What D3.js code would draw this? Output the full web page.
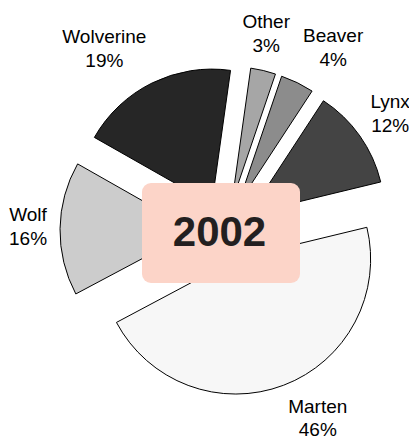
<!DOCTYPE html>
<html>
<head>
<meta charset="utf-8">
<script src="https://cdn.jsdelivr.net/npm/d3@7"></script>
<style>
  body { margin: 0; background: #fff; }
  svg { display: block; font-family: Arial, "Liberation Sans", sans-serif; }
</style>
</head>
<body>
<svg id="chart" width="409" height="439"></svg>
<script>
// pie des captures per espècie, any 2002
const species = ["Other", "Beaver", "Lynx", "Marten", "Wolf", "Wolverine"];
const shares = [3, 4, 12, 46, 16, 19];
const fills = ["#a6a6a6", "#8c8c8c", "#444444", "#f7f7f7", "#cccccc", "#262626"];
const year = "2002";

const svg = d3.select("#chart");
const cx = 225, cy = 231;
const radius = 135, explode = 30, labelR = 178;
const deg = Math.PI / 180;

const data = species.map((s, i) => ({ name: s, share: shares[i] }));

const color = d3.scaleOrdinal().domain(species).range(fills);

const pie = d3.pie()
    .sort(null)
    .value(d => d.share)
    .startAngle(8 * deg)
    .endAngle(368 * deg);

const arc = d3.arc().innerRadius(0).outerRadius(radius);
const mid = d => (d.startAngle + d.endAngle) / 2;

const g = svg.append("g").attr("transform", `translate(${cx},${cy})`);

// Llesques separades del centre
g.selectAll(".slice")
  .data(pie(data))
  .enter().append("path")
  .attr("class", "slice")
  .attr("d", arc)
  .attr("transform", d => `translate(${explode * Math.sin(mid(d))},${-explode * Math.cos(mid(d))})`)
  .attr("fill", d => color(d.data.name))
  .attr("stroke", "#000")
  .attr("stroke-width", 1);

// Etiquetes fora de la llesca (bloc de dues línies centrat)
g.selectAll(".lbl")
  .data(pie(data))
  .enter().append("text")
  .attr("class", "lbl")
  .attr("text-anchor", "middle")
  .style("font-size", "19px")
  .style("fill", "#000")
  .each(function(d) {
    const s = Math.sin(mid(d)), c = Math.cos(mid(d));
    const t = d3.select(this);
    const a = t.append("tspan").text(d.data.name);
    const b = t.append("tspan").text(d.data.share + "%");
    const w = Math.max(a.node().getComputedTextLength(), b.node().getComputedTextLength());
    const shift = Math.abs(s) < 0.3 ? 0 : Math.sign(s) * w / 2;
    const x = labelR * s + shift;
    const ty = -labelR * c - 24 * c;
    a.attr("x", x).attr("y", ty - 7);
    b.attr("x", x).attr("y", Math.min(ty + 17, 436 - cy));
  });

// Requadre de l'any
const box = { x: 221, y: 233, w: 158, h: 100 };
svg.append("rect")
  .attr("x", box.x - box.w / 2)
  .attr("y", box.y - box.h / 2)
  .attr("width", box.w)
  .attr("height", box.h)
  .attr("rx", 9)
  .attr("fill", "#fcd4c8");

svg.append("text")
  .attr("x", box.x - 1.5)
  .attr("y", box.y + 12.7)
  .attr("text-anchor", "middle")
  .style("font-size", "42px")
  .style("font-weight", "bold")
  .style("fill", "#231f20")
  .text(year);
</script>
</body>
</html>
